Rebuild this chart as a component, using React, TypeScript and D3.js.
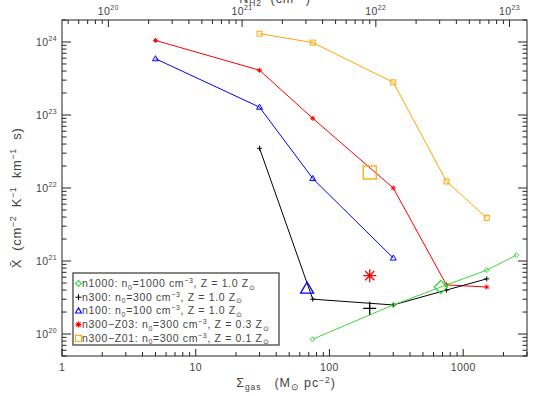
import React, { useEffect, useRef } from 'react';
import * as d3 from 'd3';

// series: gas surface density (Msun/pc^2) and mean X (cm^-2 K^-1 km^-1 s)
const sigmaN1000 = [75, 300, 750, 1500, 2500];
const xN1000 = [8.5e19, 2.5e20, 4.7e20, 7.5e20, 1.2e21];
const sigmaN300 = [30, 75, 300, 750, 1500];
const xN300 = [3.5e22, 3.0e20, 2.5e20, 4.0e20, 5.7e20];
const sigmaN100 = [5, 30, 75, 300];
const xN100 = [5.9e23, 1.28e23, 1.35e22, 1.1e21];
const sigmaZ03 = [5, 30, 75, 300, 750, 1500];
const xZ03 = [1.05e24, 4.1e23, 9.0e22, 1.0e22, 4.7e20, 4.4e20];
const sigmaZ01 = [30, 75, 300, 750, 1500];
const xZ01 = [1.3e24, 9.8e23, 2.8e23, 1.23e22, 3.9e21];

// big markers (one per run)
const bigSigma = [680, 200, 68, 200, 200];
const bigX = [4.4e20, 2.25e20, 4.2e20, 6.3e20, 1.63e22];

const names = ['n1000', 'n300', 'n100', 'n300\u2212Z03', 'n300\u2212Z01'];
const densities = ['1000', '300', '100', '300', '300'];
const metals = ['1.0', '1.0', '1.0', '0.3', '0.1'];
const colors = ['#3fd43f', '#000000', '#0000ff', '#ff0000', '#ffa500'];
const symbols = ['diamond', 'plus', 'triangle', 'asterisk', 'square'];

const NH2_PER_SIGMA = 4.5e19;

const W = 545;
const H = 396;
const L = 62;
const R = 527;
const T = 20;
const B = 356;
const FONT = 'Liberation Sans, Arial, sans-serif';
const TXT = '#444';

const drawSymbol = (g, type, cx, cy, s, color, sw) => {
  if (type === 'diamond') {
    g.append('path')
      .attr('d', `M${cx},${cy - s}L${cx + s},${cy}L${cx},${cy + s}L${cx - s},${cy}Z`)
      .attr('fill', 'none').attr('stroke', color).attr('stroke-width', sw);
  } else if (type === 'plus') {
    g.append('path')
      .attr('d', `M${cx - s},${cy}L${cx + s},${cy}M${cx},${cy - s}L${cx},${cy + s}`)
      .attr('stroke', color).attr('stroke-width', sw);
  } else if (type === 'triangle') {
    g.append('path')
      .attr('d', `M${cx},${cy - s}L${cx + s},${cy + s * 0.7}L${cx - s},${cy + s * 0.7}Z`)
      .attr('fill', 'none').attr('stroke', color).attr('stroke-width', sw);
  } else if (type === 'square') {
    g.append('rect')
      .attr('x', cx - s).attr('y', cy - s).attr('width', 2 * s).attr('height', 2 * s)
      .attr('fill', 'none').attr('stroke', color).attr('stroke-width', sw);
  } else if (type === 'asterisk') {
    const d = s * 0.707;
    g.append('path')
      .attr('d', `M${cx - s},${cy}L${cx + s},${cy}M${cx},${cy - s}L${cx},${cy + s}` +
        `M${cx - d},${cy - d}L${cx + d},${cy + d}M${cx - d},${cy + d}L${cx + d},${cy - d}`)
      .attr('stroke', color).attr('stroke-width', sw);
  }
};

const powLabel = (g, px, py, exp, anchor) => {
  const t = g.append('text')
    .attr('x', px).attr('y', py)
    .attr('text-anchor', anchor)
    .attr('font-family', FONT).attr('font-size', 10.5).attr('fill', TXT)
    .attr('letter-spacing', 0.4);
  t.append('tspan').text('10');
  t.append('tspan').attr('dy', -5).attr('font-size', 7).text(exp);
};

export default function App() {
  const ref = useRef(null);

  useEffect(() => {
    const svg = d3.select(ref.current);
    svg.selectAll('*').remove();

    const x = d3.scaleLog().domain([1, 3000]).range([L, R]);
    const y = d3.scaleLog().domain([5e19, 2e24]).range([B, T]);
    const xTop = d3.scaleLog().domain([NH2_PER_SIGMA, 3000 * NH2_PER_SIGMA]).range([L, R]);

    const isMajor = v => Math.abs(Math.log10(v) - Math.round(Math.log10(v))) < 1e-6;

    // frame
    svg.append('rect')
      .attr('x', L).attr('y', T).attr('width', R - L).attr('height', B - T)
      .attr('fill', 'none').attr('stroke', '#222').attr('stroke-width', 1);

    const ticks = svg.append('g').attr('stroke', '#222').attr('stroke-width', 1);

    // bottom axis
    x.ticks().forEach(v => {
      const px = x(v);
      const len = isMajor(v) ? 7 : 4;
      ticks.append('line').attr('x1', px).attr('x2', px).attr('y1', B).attr('y2', B - len);
    });
    x.ticks().filter(isMajor).forEach(v => {
      svg.append('text')
        .attr('x', x(v)).attr('y', 371).attr('text-anchor', 'middle')
        .attr('font-family', FONT).attr('font-size', 10.5).attr('fill', TXT)
        .attr('letter-spacing', 0.4)
        .text(d3.format('d')(v));
    });

    // top axis (N_H2)
    xTop.ticks().forEach(v => {
      const px = xTop(v);
      const len = isMajor(v) ? 7 : 4;
      ticks.append('line').attr('x1', px).attr('x2', px).attr('y1', T).attr('y2', T + len);
    });
    xTop.ticks().filter(isMajor).forEach(v => {
      powLabel(svg, xTop(v), 15, String(Math.round(Math.log10(v))), 'middle');
    });

    // left + right axes
    y.ticks().forEach(v => {
      const py = y(v);
      const len = isMajor(v) ? 9 : 4.5;
      ticks.append('line').attr('x1', L).attr('x2', L + len).attr('y1', py).attr('y2', py);
      ticks.append('line').attr('x1', R).attr('x2', R - len).attr('y1', py).attr('y2', py);
    });
    y.ticks().filter(isMajor).forEach(v => {
      powLabel(svg, 57, y(v) + 4, String(Math.round(Math.log10(v))), 'end');
    });

    // axis titles
    const xt = svg.append('text')
      .attr('x', 286).attr('y', 387).attr('text-anchor', 'middle')
      .attr('font-family', FONT).attr('font-size', 12.5).attr('fill', TXT)
      .attr('letter-spacing', 0.9).attr('xml:space', 'preserve');
    xt.append('tspan').text('\u03a3');
    xt.append('tspan').attr('dy', 3).attr('font-size', 8.5).text('gas');
    xt.append('tspan').attr('dy', -3).text('   (M');
    xt.append('tspan').attr('dy', 3).attr('font-size', 8.5).text('\u2299');
    xt.append('tspan').attr('dy', -3).text(' pc');
    xt.append('tspan').attr('dy', -4.5).attr('font-size', 8.5).text('\u22122');
    xt.append('tspan').attr('dy', 4.5).text(')');

    const tt = svg.append('text')
      .attr('x', 275).attr('y', 3).attr('text-anchor', 'middle')
      .attr('font-family', FONT).attr('font-size', 12.5).attr('fill', TXT)
      .attr('letter-spacing', 0.9).attr('xml:space', 'preserve');
    tt.append('tspan').text('N');
    tt.append('tspan').attr('dy', 3).attr('font-size', 8.5).text('H2');
    tt.append('tspan').attr('dy', -3).text('  (cm');
    tt.append('tspan').attr('dy', -5).attr('font-size', 8.5).text('\u22122');
    tt.append('tspan').attr('dy', 5).text(')');

    const yt = svg.append('text')
      .attr('transform', 'translate(21,198) rotate(-90)')
      .attr('text-anchor', 'middle')
      .attr('font-family', FONT).attr('font-size', 13).attr('fill', TXT)
      .attr('letter-spacing', 0.6).attr('xml:space', 'preserve');
    yt.append('tspan').text('X\u0304  (cm');
    yt.append('tspan').attr('dy', -5).attr('font-size', 9).text('\u22122');
    yt.append('tspan').attr('dy', 5).text('  K');
    yt.append('tspan').attr('dy', -5).attr('font-size', 9).text('\u22121');
    yt.append('tspan').attr('dy', 5).text('  km');
    yt.append('tspan').attr('dy', -5).attr('font-size', 9).text('\u22121');
    yt.append('tspan').attr('dy', 5).text('  s)');

    // data
    const sigmas = [sigmaN1000, sigmaN300, sigmaN100, sigmaZ03, sigmaZ01];
    const values = [xN1000, xN300, xN100, xZ03, xZ01];
    const line = d3.line().x(d => x(d[0])).y(d => y(d[1]));

    const drawOrder = [4, 3, 2, 1, 0];
    drawOrder.forEach(i => {
      const pts = sigmas[i].map((s, j) => [s, values[i][j]]);
      svg.append('path')
        .attr('d', line(pts))
        .attr('fill', 'none')
        .attr('stroke', colors[i])
        .attr('stroke-width', 1);
      const g = svg.append('g');
      pts.forEach(p => drawSymbol(g, symbols[i], x(p[0]), y(p[1]), symbols[i] === 'triangle' ? 3 : 2.5, colors[i], 1));
    });

    // big markers
    drawOrder.forEach(i => {
      drawSymbol(svg.append('g'), symbols[i], x(bigSigma[i]), y(bigX[i]), 6.5, colors[i], 1.3);
    });

    // legend
    const lg = svg.append('g');
    lg.append('rect')
      .attr('x', 73).attr('y', 273).attr('width', 206).attr('height', 72)
      .attr('fill', '#fff').attr('stroke', '#444').attr('stroke-width', 1.3);
    names.forEach((n, i) => {
      const cy = 283.5 + i * 13.7;
      drawSymbol(lg, symbols[i], 78.5, cy, 3, colors[i], 1.1);
      const t = lg.append('text')
        .attr('x', 82).attr('y', cy + 3.5)
        .attr('font-family', FONT).attr('font-size', 10.5).attr('fill', TXT)
        .attr('letter-spacing', 0.65)
        .attr('xml:space', 'preserve');
      t.append('tspan').text(`${n}: n`);
      t.append('tspan').attr('dy', 2.5).attr('font-size', 7).text('0');
      t.append('tspan').attr('dy', -2.5).text(`=${densities[i]} cm`);
      t.append('tspan').attr('dy', -4).attr('font-size', 7).text('\u22123');
      t.append('tspan').attr('dy', 4).text(`, Z = ${metals[i]} Z`);
      t.append('tspan').attr('dy', 2.5).attr('font-size', 7).text('\u2299');
    });
  }, []);

  return (
    <svg
      ref={ref}
      width={W}
      height={H}
      style={{ position: 'absolute', left: 0, top: 0, background: '#fff' }}
    />
  );
}
